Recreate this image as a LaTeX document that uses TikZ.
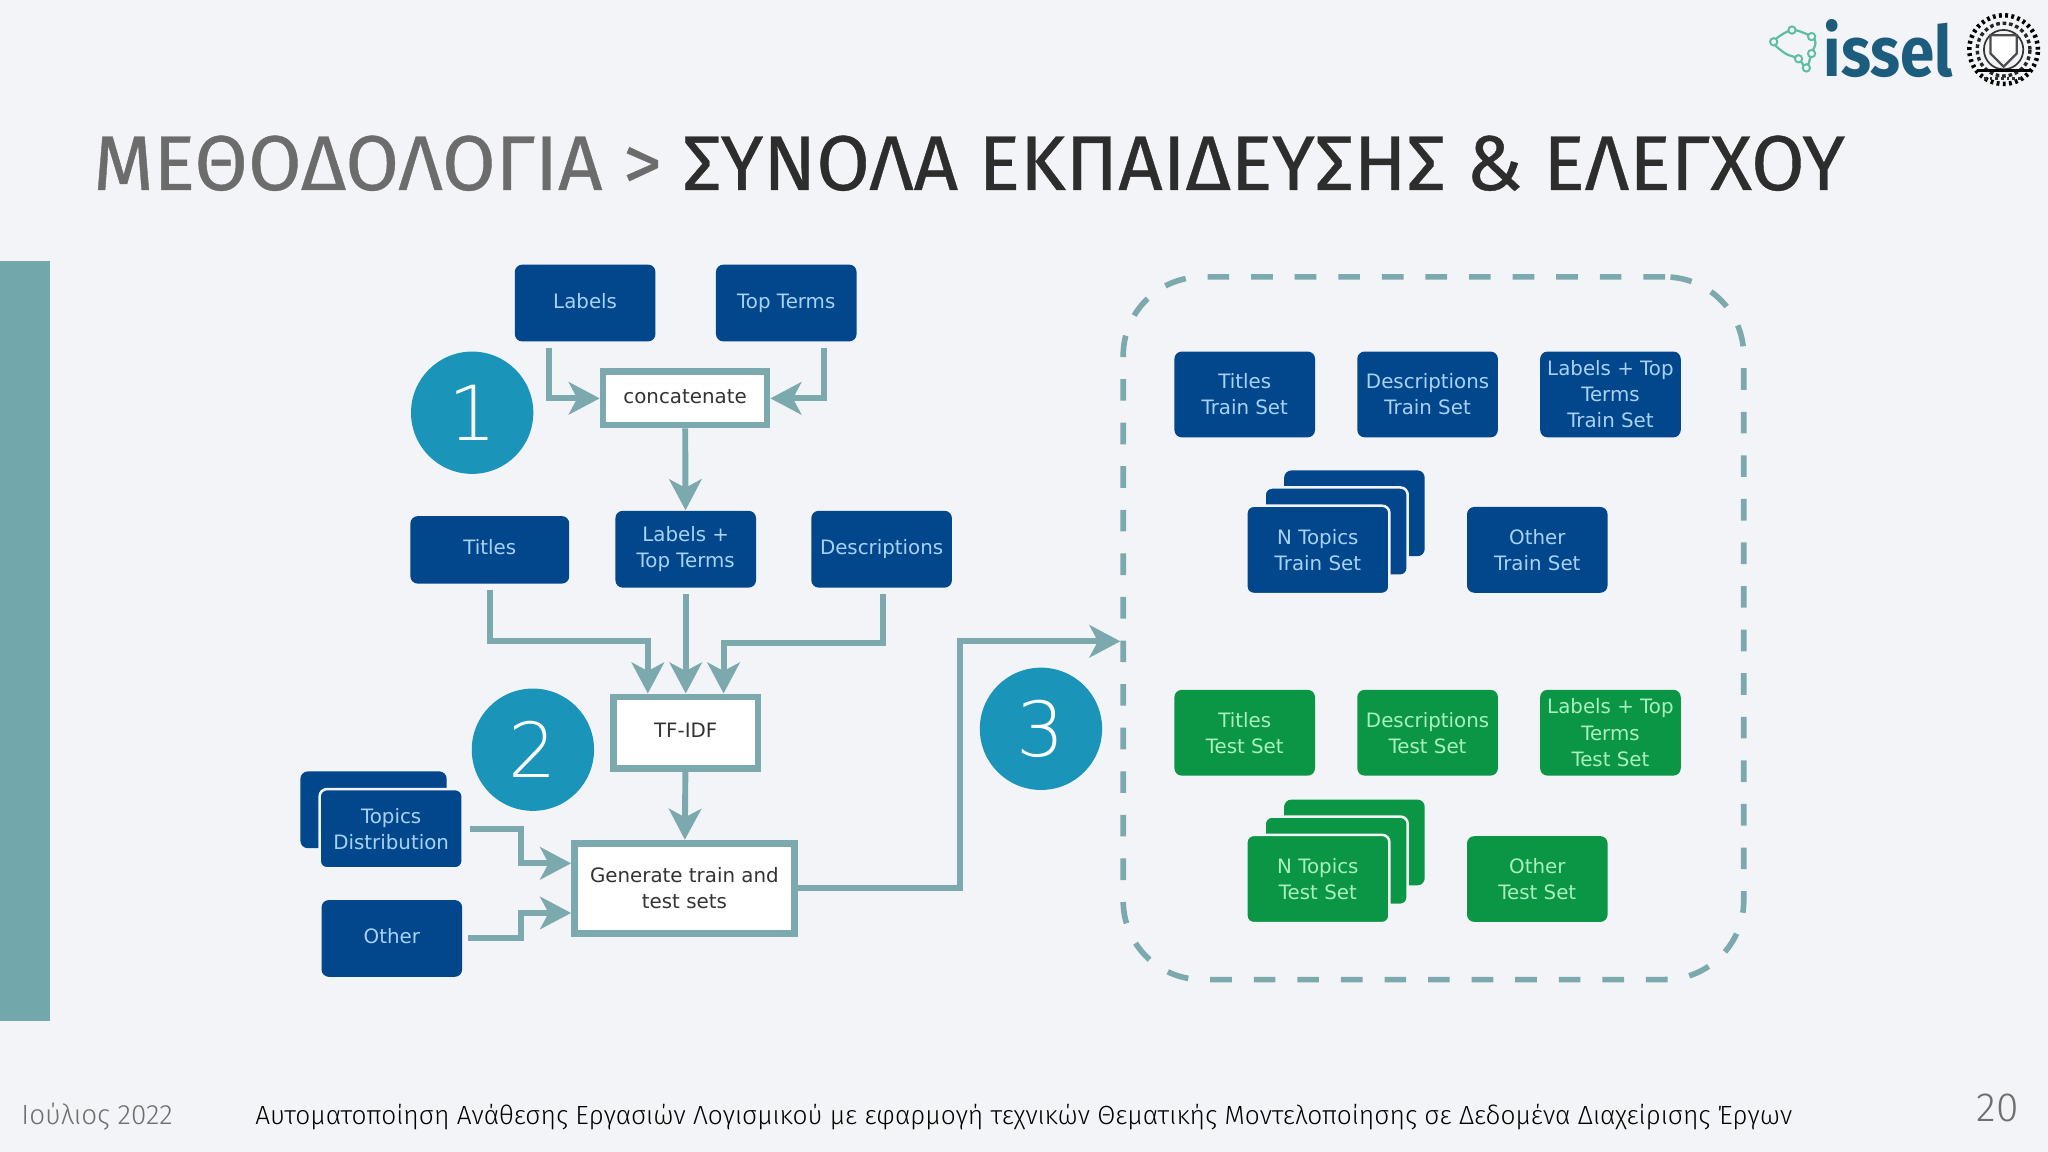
\documentclass[tikz,border=0pt]{standalone}
\usepackage{fontspec}
\usepackage{amsmath,amssymb}
\usetikzlibrary{arrows.meta}
\setmainfont[FakeBold=0.5]{Fira Sans}
\newfontfamily\boxfont{DejaVu Sans}
\newfontfamily\footfont{Fira Sans Light}
\newfontfamily\digitfont{DejaVu Sans ExtraLight}
\newfontfamily\logofont[FakeStretch=0.88]{Fira Sans Bold}
\definecolor{slidebg}{HTML}{F3F4F7}
\definecolor{tealline}{HTML}{7CA9AD}
\definecolor{barteal}{HTML}{72A8AC}
\definecolor{trainblue}{HTML}{02468C}
\definecolor{trainink}{HTML}{A8D2F5}
\definecolor{testgreen}{HTML}{0B9645}
\definecolor{testink}{HTML}{A8F0BC}
\definecolor{badge}{HTML}{1A94B8}
\definecolor{titlegrey}{HTML}{6C6C6C}
\definecolor{titledark}{HTML}{2D2D2D}
\definecolor{footgrey}{HTML}{6F6F6F}
\definecolor{logoblue}{HTML}{1C5C7C}
\definecolor{logogreen}{HTML}{5DBFA0}
\tikzset{
  datablock/.style={shape=rectangle,rounded corners=2.6pt,inner sep=0pt,align=center,
    minimum width=50pt,minimum height=27.3pt,font=\boxfont\fontsize{7.05}{9.3}\selectfont},
  inputbox/.style={datablock,fill=trainblue,text=trainink},
  trainbox/.style={datablock,fill=trainblue,text=trainink,minimum height=30.5pt},
  testbox/.style={datablock,fill=testgreen,text=testink,minimum height=30.5pt},
  stacked/.style={draw=slidebg,line width=0.9pt,minimum width=50.9pt,minimum height=31.4pt},
  oneline/.style={text height=5.2pt,text depth=1.6pt},
  stepbox/.style={shape=rectangle,draw=tealline,line width=2.4pt,fill=white,inner sep=0pt,align=center,
    text=black!80,font=\boxfont\fontsize{7.05}{9.3}\selectfont},
  badgenode/.style={shape=circle,fill=badge,text=white,minimum size=43.5pt,inner sep=0pt,
    font=\digitfont\fontsize{27}{27}\selectfont},
  flow/.style={draw=tealline,line width=2.1pt,-{Stealth[length=11pt,width=11.5pt,inset=3pt]}},
  footnode/.style={inner sep=0pt,anchor=west,font=\footfont\fontsize{9.35}{11}\selectfont}
}
\begin{document}
\begin{tikzpicture}[x=0.016327cm,y=-0.016327cm]
\fill[slidebg] (0,0) rectangle (1568,882);
\useasboundingbox (0,0) rectangle (1568,882);
\fill[barteal] (0,200) rectangle (38,782);

\node[inner sep=0pt,anchor=west,font=\fontsize{27.6}{30}\selectfont] (title) at (71,125)
  {\textcolor{titlegrey}{ΜΕΘΟΔΟΛΟΓΙΑ >} \textcolor{titledark}{ΣΥΝΟΛΑ ΕΚΠΑΙΔΕΥΣΗΣ \& ΕΛΕΓΧΟΥ}};

\node[inner sep=0pt,anchor=west,text=logoblue,font=\logofont\fontsize{25}{25}\selectfont] (issel) at (1396,37) {issel};
\draw[logogreen,line width=0.8pt] plot[smooth cycle] coordinates {(1358,32) (1372,23) (1387,28) (1390,33) (1387,41) (1383,52) (1377,45) (1367,41)};
\foreach \px/\py in {1358/32,1372/23,1387/28,1387/41,1383/52,1377/45}
  \draw[logogreen,line width=0.7pt,fill=slidebg] (\px,\py) circle (1.3pt);
\draw[black,line width=1.6pt,dash pattern=on 1pt off 1.2pt] (1534,38) circle (12.2pt);
\draw[black!85,line width=1.2pt,dash pattern=on 1.3pt off 1pt] (1534,38) circle (9.4pt);
\draw[black!80,line width=0.6pt] (1534,38) circle (7pt);
\draw[black!70,line width=0.8pt,fill=white] (1524,27) -- (1544,27) -- (1544,41) -- (1534,51) -- (1524,41) -- cycle;
\draw[black,line width=1.2pt] (1514,54) -- (1554,54);
\draw[black!80,line width=1.2pt,dash pattern=on 1pt off 1pt] (1519,60) -- (1549,60);

\node[inputbox,oneline] (labels) at (448,232) {Labels};
\node[inputbox,oneline] (topterms) at (602,232) {Top Terms};
\node[stepbox,oneline,minimum width=58.3pt,minimum height=19pt] (concat) at (524.5,305) {concatenate};
\node[inputbox,oneline,minimum width=56.5pt,minimum height=24pt] (titles) at (375,421) {Titles};
\node[inputbox] (labeltop) at (525,420.5) {Labels +\\Top Terms};
\node[inputbox,oneline] (descr) at (675,420.5) {Descriptions};
\node[stepbox,oneline,minimum width=51.4pt,minimum height=25.5pt] (tfidf) at (525,561) {TF-IDF};
\node[stepbox,minimum width=78.2pt,minimum height=32pt] (generate) at (524,680) {Generate train and\\test sets};
\node[inputbox,minimum width=52pt] (topicsback) at (286,620) {};
\node[inputbox,stacked,minimum height=28.2pt] (topics) at (299.5,634.5) {Topics\\Distribution};
\node[inputbox,oneline] (other) at (300,718.5) {Other};

\node[badgenode] (one) at (361.5,316) {1};
\node[badgenode] (two) at (408,574) {2};
\node[badgenode] (three) at (797,558) {3};

\node[shape=rectangle,draw=tealline,line width=2pt,rounded corners=28pt,dash pattern=on 7.7pt off 7.8pt,
  minimum width=220.7pt,minimum height=249.9pt,inner sep=0pt] (sets) at (1097.5,481) {};

\node[trainbox] (titlestrain) at (953,302) {Titles\\Train Set};
\node[trainbox] (descrtrain) at (1093,302) {Descriptions\\Train Set};
\node[trainbox] (labeltrain) at (1233,302) {Labels + Top\\Terms\\Train Set};
\node[trainbox] (ntrainc) at (1037,393) {};
\node[trainbox,stacked] (ntrainb) at (1023,407) {};
\node[trainbox,stacked] (ntrain) at (1009,421) {N Topics\\Train Set};
\node[trainbox] (othertrain) at (1177,421) {Other\\Train Set};

\node[testbox] (titlestest) at (953,561) {Titles\\Test Set};
\node[testbox] (descrtest) at (1093,561) {Descriptions\\Test Set};
\node[testbox] (labeltest) at (1233,561) {Labels + Top\\Terms\\Test Set};
\node[testbox] (ntestc) at (1037,645) {};
\node[testbox,stacked] (ntestb) at (1023,659) {};
\node[testbox,stacked] (ntest) at (1009,673) {N Topics\\Test Set};
\node[testbox] (othertest) at (1177,673) {Other\\Test Set};

\coordinate (labelsdrop) at (420,306);
\coordinate (termsdrop) at (631,306);
\coordinate (titlesin) at (496,491);
\coordinate (descrin) at (554,492);
\coordinate (descrdrop) at (676,492);
\coordinate (topicsin) at (399,661);
\coordinate (otherin) at (399,699);
\coordinate (setsbend) at (735,491);

\draw[flow,shorten <=2pt] (labels.south -| labelsdrop) |- (concat.west);
\draw[flow,shorten <=2pt] (topterms.south -| termsdrop) |- (concat.east);
\path [] (concat) edge[flow] (labeltop);
\draw[flow,shorten <=2pt] (titles.south) |- (titlesin) -- (titlesin |- tfidf.north);
\draw[flow,shorten <=2pt] (labeltop.south) -- (tfidf.north);
\draw[flow,shorten <=2pt] (descr.south -| descrdrop) |- (descrin) -- (descrin |- tfidf.north);
\path [] (tfidf) edge[flow] (generate);
\draw[flow,shorten <=2pt] (topics.east) -| (topicsin) -- (topicsin -| generate.west);
\draw[flow,shorten <=2pt] (other.east) -| (otherin) -- (otherin -| generate.west);
\draw[flow] (generate.east) -| (setsbend) -- (setsbend -| sets.west);

\node[footnode,text=footgrey,font=\footfont\fontsize{9.9}{11}\selectfont] (date) at (16,855) {Ιούλιος 2022};
\node[footnode,text=black] (thesis) at (195,855) {Αυτοματοποίηση Ανάθεσης Εργασιών Λογισμικού με εφαρμογή τεχνικών Θεματικής Μοντελοποίησης σε Δεδομένα Διαχείρισης Έργων};
\node[footnode,text=footgrey,font=\footfont\fontsize{14.5}{14.5}\selectfont] (pagenum) at (1513,848) {20};
\end{tikzpicture}
\end{document}
